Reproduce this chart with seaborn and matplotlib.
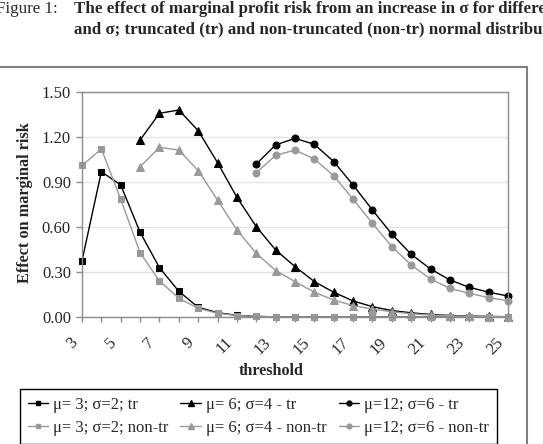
import numpy as np
import pandas as pd
import seaborn as sns
import matplotlib.pyplot as plt
import matplotlib.transforms as mtransforms
from matplotlib.patches import Rectangle
from matplotlib.lines import Line2D

# thresholds on the category axis
thresholds = list(range(3, 26))

# mu=3, sigma=2 (starts at threshold 3)
mu3_tr = [0.375, 0.969, 0.880, 0.565, 0.329, 0.171, 0.065, 0.029, 0.011, 0.004, 0.001, 0.0,
          0.0, 0.0, 0.0, 0.0, 0.0, 0.0, 0.0, 0.0, 0.0, 0.0, 0.0]
mu3_nontr = [1.010, 1.120, 0.785, 0.429, 0.240, 0.125, 0.058, 0.025, 0.010, 0.004, 0.001, 0.0,
             0.0, 0.0, 0.0, 0.0, 0.0, 0.0, 0.0, 0.0, 0.0, 0.0, 0.0]

# mu=6, sigma=4 (starts at threshold 6)
thr_mu6 = list(range(6, 26))
mu6_tr = [1.180, 1.358, 1.380, 1.242, 1.029, 0.798, 0.602, 0.447, 0.336, 0.236, 0.165, 0.107,
          0.069, 0.043, 0.028, 0.017, 0.010, 0.006, 0.004, 0.002]
mu6_nontr = [1.002, 1.131, 1.113, 0.976, 0.780, 0.580, 0.424, 0.310, 0.236, 0.165, 0.113, 0.076,
             0.053, 0.035, 0.022, 0.013, 0.008, 0.005, 0.003, 0.002]

# mu=12, sigma=6 (starts at threshold 12)
thr_mu12 = list(range(12, 26))
mu12_tr = [1.020, 1.147, 1.191, 1.151, 1.036, 0.880, 0.713, 0.553, 0.418, 0.320, 0.247, 0.198,
           0.165, 0.140]
mu12_nontr = [0.962, 1.078, 1.113, 1.053, 0.942, 0.785, 0.624, 0.469, 0.347, 0.253, 0.191, 0.158,
              0.129, 0.109]

labels = ["\u03bc= 3; \u03c3=2; tr", "\u03bc= 6; \u03c3=4 - tr", "\u03bc=12; \u03c3=6 - tr",
          "\u03bc= 3; \u03c3=2; non-tr", "\u03bc= 6; \u03c3=4 - non-tr", "\u03bc=12; \u03c3=6 - non-tr"]

BLACK = "#000000"
GREY = "#999999"

series = [
    (thresholds, mu3_tr, "s", BLACK, 4.5),
    (thr_mu6, mu6_tr, "^", BLACK, 5.5),
    (thr_mu12, mu12_tr, "o", BLACK, 5),
    (thresholds, mu3_nontr, "s", GREY, 4.5),
    (thr_mu6, mu6_nontr, "^", GREY, 5.5),
    (thr_mu12, mu12_nontr, "o", GREY, 5),
]

sns.set_theme(style="white")
plt.rcParams['font.family'] = ['Liberation Serif', 'DejaVu Serif']

fig = plt.figure(figsize=(5.43, 4.44), dpi=100)
ax = fig.add_axes([82 / 543, 1 - 317 / 444, 426 / 543, 225 / 444])

handles = []
for (xs, ys, mk, col, ms), lab in zip(series, labels):
    df = pd.DataFrame({"threshold": xs, "effect": ys})
    sns.lineplot(data=df, x="threshold", y="effect", ax=ax, color=col, marker=mk,
                 markersize=ms, markeredgecolor=col, markerfacecolor=col,
                 linewidth=1, clip_on=False, legend=False)
    handles.append(Line2D([], [], color=col, marker=mk, markersize=ms - 1.5,
                          markeredgecolor=col, linewidth=1))

ax.set_xlim(3, 25)
ax.set_ylim(0, 1.5)
ax.set_yticks(np.arange(0, 1.51, 0.3))
ax.set_yticklabels([f"{v:.2f}" for v in np.arange(0, 1.51, 0.3)])
ax.set_xticks(thresholds)
ax.set_xticklabels([str(t) if t % 2 == 1 else "" for t in thresholds])

ax.yaxis.grid(True, color="#e4e4e4", linewidth=1)
ax.xaxis.grid(False)
ax.set_axisbelow(True)
for side in ["left", "bottom", "top", "right"]:
    ax.spines[side].set_visible(True)
    ax.spines[side].set_color("#8c8c8c")
    ax.spines[side].set_linewidth(1)

ax.tick_params(axis="y", direction="out", length=4, width=1, color="#8c8c8c",
               labelsize=12, pad=4, left=True)
ax.tick_params(axis="x", direction="out", length=3.6, width=1, color="#8c8c8c",
               labelsize=12, pad=13, bottom=True)

shift = mtransforms.ScaledTranslation(-7 / 100, 0, fig.dpi_scale_trans)
for lbl in ax.get_xticklabels():
    lbl.set_rotation(45)
    lbl.set_ha("right")
    lbl.set_va("center")
    lbl.set_rotation_mode("anchor")
    lbl.set_transform(lbl.get_transform() + shift)

ax.set_xlabel("threshold", fontsize=11.6, fontweight="bold")
ax.xaxis.set_label_coords(0.444, -0.204)
ax.set_ylabel("Effect on marginal risk", fontsize=11.7, fontweight="bold")
ax.yaxis.set_label_coords(-0.115, 0.509)

fig.legend([handles[i] for i in [0, 3, 1, 4, 2, 5]],
           [labels[i] for i in [0, 3, 1, 4, 2, 5]],
           ncol=3, loc="upper left", bbox_to_anchor=(20 / 543, 1 - 389 / 444),
           bbox_transform=fig.transFigure, frameon=True, fancybox=False,
           edgecolor="black", framealpha=1, fontsize=12, handlelength=1.25,
           handletextpad=0.3, columnspacing=0.7, borderpad=0.45,
           labelspacing=0.45, borderaxespad=0)

# outer chart frame
fig.add_artist(Rectangle((-5 / 543, -0.1), 532 / 543, (1 - 67 / 444) + 0.1,
                         transform=fig.transFigure, fill=False,
                         edgecolor="#808080", linewidth=1.5))

# caption above the chart (runs past the right edge, as in the source)
fig.text(-4 / 543, 1 - 13 / 444, "Figure 1:", fontsize=12.2, va="baseline", ha="left")
fig.text(74 / 543, 1 - 13 / 444,
         "The effect of marginal profit risk from an increase in \u03c3 for different \u03bc",
         fontsize=12.2, fontweight="bold", va="baseline", ha="left")
fig.text(74 / 543, 1 - 33 / 444,
         "and \u03c3; truncated (tr) and non-truncated (non-tr) normal distributions",
         fontsize=12.2, fontweight="bold", va="baseline", ha="left")

fig.savefig("out.png", dpi=100)
